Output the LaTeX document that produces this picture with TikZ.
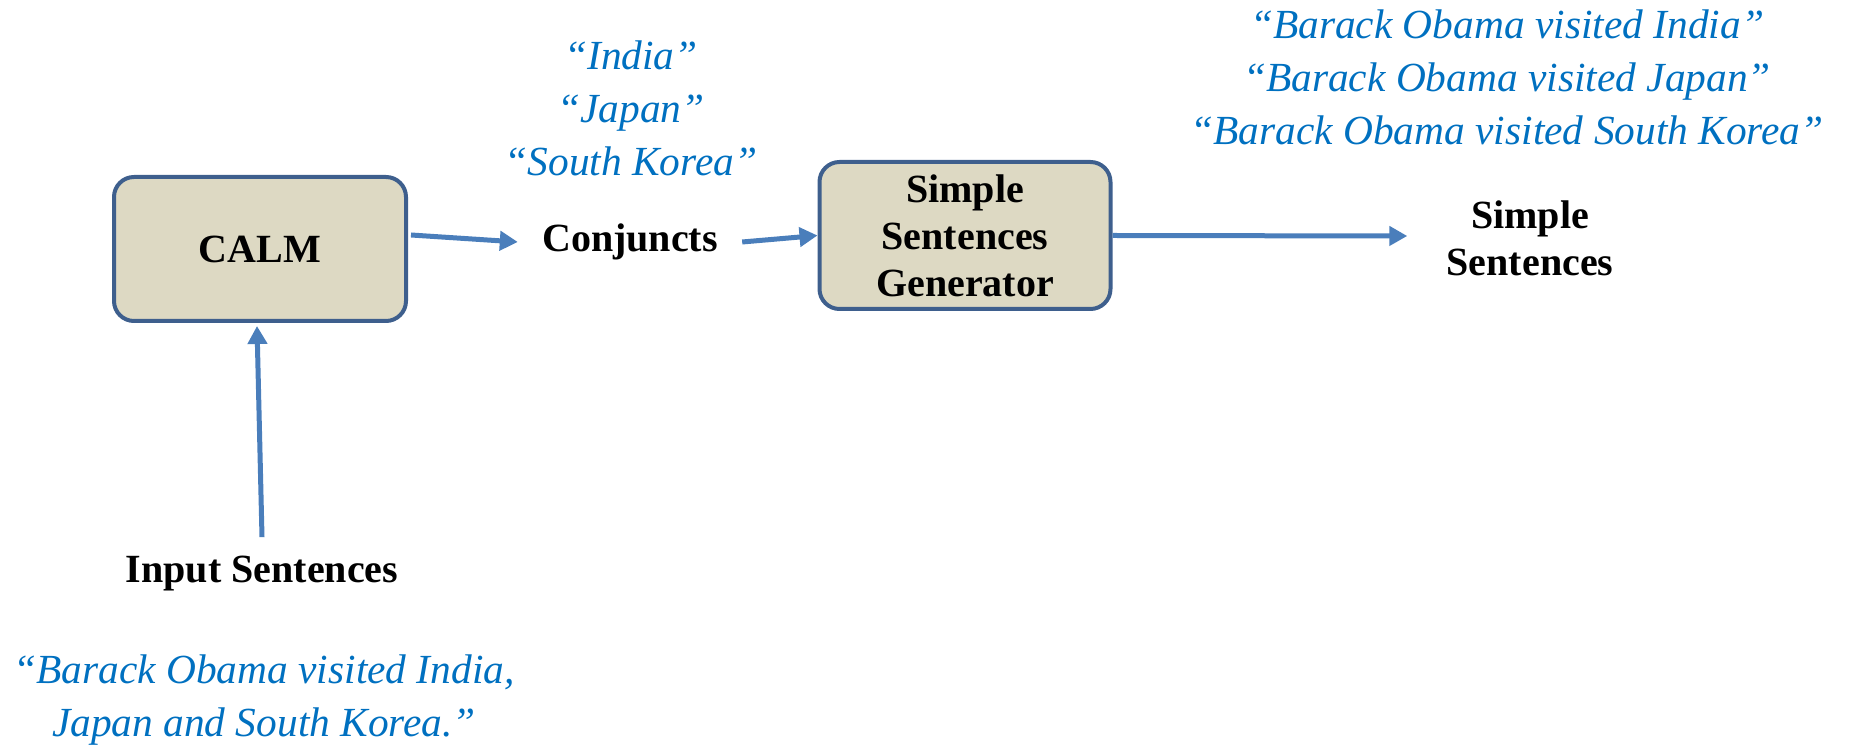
\documentclass[tikz,border=0pt]{standalone}
\usepackage{fontspec}
\setmainfont{Liberation Serif}
\usetikzlibrary{arrows.meta,calc}
\definecolor{boxfill}{HTML}{DDD9C3}
\definecolor{boxline}{HTML}{3E5F8D}
\definecolor{arrowblue}{HTML}{4A7EBB}
\definecolor{quoteblue}{HTML}{0070C0}
\begin{document}
\begin{tikzpicture}[x=0.5pt,y=-0.5pt,
  stage/.style={draw=boxline, line width=2pt, fill=boxfill, rounded corners=10pt,
    align=center, font=\fontsize{20}{23.5}\selectfont\bfseries},
  label/.style={align=center, inner sep=12pt, font=\fontsize{20}{23.5}\selectfont\bfseries},
  example/.style={align=center, inner sep=0pt, text=quoteblue,
    font=\fontsize{20.7}{26.5}\selectfont\itshape},
  flow/.style={draw=arrowblue, line width=2.5pt,
    -{Triangle[length=9pt,width=9.5pt]}}]
\useasboundingbox (0,0) rectangle (1849,747);

% processing stages
\node[stage, minimum width=146pt, minimum height=72pt] (calm) at (260,249) {CALM};
\node[stage, minimum width=145.5pt, minimum height=73.5pt] (ssg) at (965,235.5)
  {Simple\\Sentences\\Generator};

% intermediate and final data
\node[label] (conj) at (630,242) {Conjuncts};
\node[label] (out) at (1530,238) {Simple\\Sentences};
\node[label] (input) at (262,574) {Input Sentences};

% worked example
\node[example] (exconj) at (631,108) {“India”\\“Japan”\\“South Korea”};
\node[example] (exout) at (1507,77)
  {“Barack Obama visited India”\\“Barack Obama visited Japan”\\“Barack Obama visited South Korea”};
\node[example] (exin) at (264,700)
  {“Barack Obama visited India,\\Japan and South Korea.”};

% data flow
\draw[flow] ($(input.north)+(0,5)$) -- ($(calm.south)+(-3,3)$);
\draw[flow] ($(calm.east)+(3,-14)$) -- (conj.west);
\draw[flow] (conj.east) -- (ssg.west);
\draw[flow] (ssg.east) -- ($(out.west)+(-15,-2)$);
\end{tikzpicture}
\end{document}
